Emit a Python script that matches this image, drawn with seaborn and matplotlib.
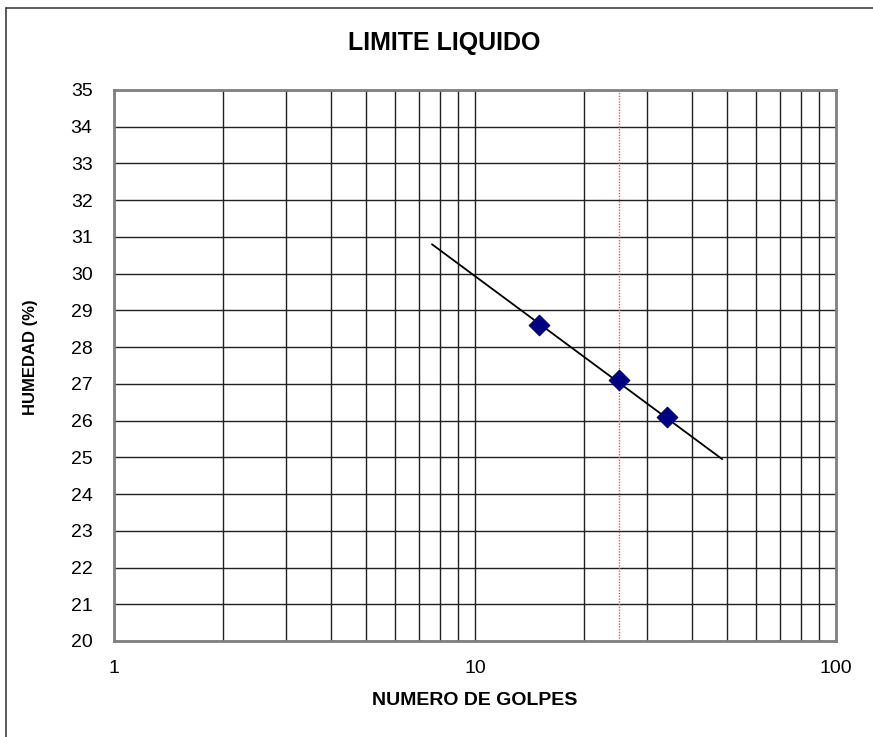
import matplotlib
matplotlib.use("Agg")
import matplotlib.pyplot as plt
import seaborn as sns
import pandas as pd
from matplotlib.lines import Line2D
from matplotlib.ticker import FixedLocator, NullFormatter, FixedFormatter

# data
golpes = [15, 25, 34]
humedad = [28.6, 27.1, 26.1]
trend_x = [7.6, 48.4]
trend_y = [30.8, 24.95]
ref_golpes = 25
x_ticks = [1, 10, 100]
x_labels = ["1", "10", "100"]
y_ticks = list(range(20, 36))

sns.set_theme(style="white")
plt.rcParams['font.family'] = ['Liberation Sans', 'DejaVu Sans']
plt.rcParams['text.color'] = 'black'
plt.rcParams['axes.labelcolor'] = 'black'

fig = plt.figure(figsize=(8.73, 7.37), dpi=100)
ax = fig.add_axes([114/873, 1-641/737, (836-114)/873, (641-90)/737])

df = pd.DataFrame({"golpes": golpes, "humedad": humedad})
ax.set_xscale("log")
ax.set_xlim(1, 100)
ax.set_ylim(20, 35)

# grid
minor = [v * d for d in (1, 10) for v in range(2, 10)]
ax.xaxis.set_major_locator(FixedLocator(x_ticks))
ax.xaxis.set_major_formatter(FixedFormatter(x_labels))
ax.xaxis.set_minor_locator(FixedLocator(minor))
ax.xaxis.set_minor_formatter(NullFormatter())
ax.set_yticks(y_ticks)
ax.grid(True, which="both", axis="both", color="#202020", linewidth=1.0)
ax.set_axisbelow(True)

ax.axvline(ref_golpes, color="#ff5050", linestyle=(0, (1, 1)), linewidth=1.0, zorder=2)

sns.lineplot(x=trend_x, y=trend_y, ax=ax, color="black", linewidth=1.3, zorder=3)
sns.scatterplot(data=df, x="golpes", y="humedad", ax=ax, marker="D", s=110,
                color="#000080", edgecolor="#000080", linewidth=0.8, zorder=4)

for s in ax.spines.values():
    s.set_color("#808080")
    s.set_linewidth(2)
    s.set_visible(True)

ax.tick_params(axis="both", which="both", length=0, labelsize=14, colors="black")
ax.tick_params(axis="x", pad=13.5)
ax.tick_params(axis="y", pad=15.5)

ax.set_xlabel("NUMERO DE GOLPES", fontsize=14, fontweight="bold", labelpad=11, color="black")
ax.set_ylabel("")
fig.text(31/873, 1-357/737, "HUMEDAD (%)", fontsize=12, fontweight="bold",
         rotation=90, ha="center", va="center", color="black")
fig.text(444/873, 1-43/737, "LIMITE LIQUIDO", fontsize=18, fontweight="bold",
         ha="center", va="center", color="black")

# figure border (left/top visible)
fig.add_artist(Line2D([6/873, 6/873], [0, 1-8/737], transform=fig.transFigure,
                      color="#404040", linewidth=1.2))
fig.add_artist(Line2D([6/873, 1], [1-8/737, 1-8/737], transform=fig.transFigure,
                      color="#404040", linewidth=1.2))

fig.savefig("out.png", dpi=100)
